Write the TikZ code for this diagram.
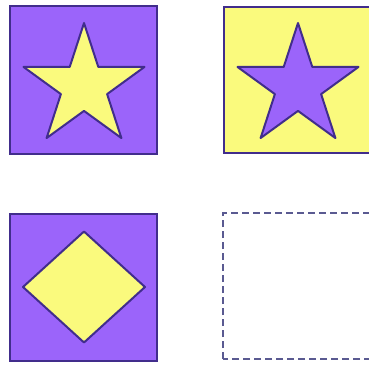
\documentclass[tikz,border=0pt]{standalone}
\definecolor{vio}{RGB}{155,100,250}
\definecolor{yel}{RGB}{250,250,125}
\definecolor{edge}{RGB}{65,45,140}
\definecolor{dashc}{RGB}{90,90,145}
\tikzset{
  sq/.style={draw=edge, line width=2.2pt},
  shp/.style={draw=edge, line width=2pt, line join=round},
  dsq/.style={draw=dashc, line width=2.2pt, dash pattern=on 7pt off 4pt},
}
\newcommand{\starpath}{(90:63.6) -- (126:24.3) -- (162:63.6) -- (198:24.3) -- (234:63.6) -- (270:24.3) -- (306:63.6) -- (342:24.3) -- (18:63.6) -- (54:24.3) -- cycle}
\begin{document}
\begin{tikzpicture}[x=1pt,y=1pt]
\useasboundingbox (0,0) rectangle (369,367);
\clip (0,0) rectangle (369,367);
\fill[white] (0,0) rectangle (369,367);
% top-left
\draw[sq, fill=vio] (10,213) rectangle (157,361);
\begin{scope}[shift={(84,280.4)}]
\draw[shp, fill=yel] \starpath;
\end{scope}
% top-right
\draw[sq, fill=yel] (224,214) rectangle (371,360);
\begin{scope}[shift={(298,280.4)}]
\draw[shp, fill=vio] \starpath;
\end{scope}
% bottom-left
\draw[sq, fill=vio] (10,6) rectangle (157,153);
\draw[shp, fill=yel] (84,135.5) -- (23,80) -- (84,24.5) -- (145,80) -- cycle;
% bottom-right
\draw[dsq] (223,8) rectangle (371,154);
\end{tikzpicture}
\end{document}
